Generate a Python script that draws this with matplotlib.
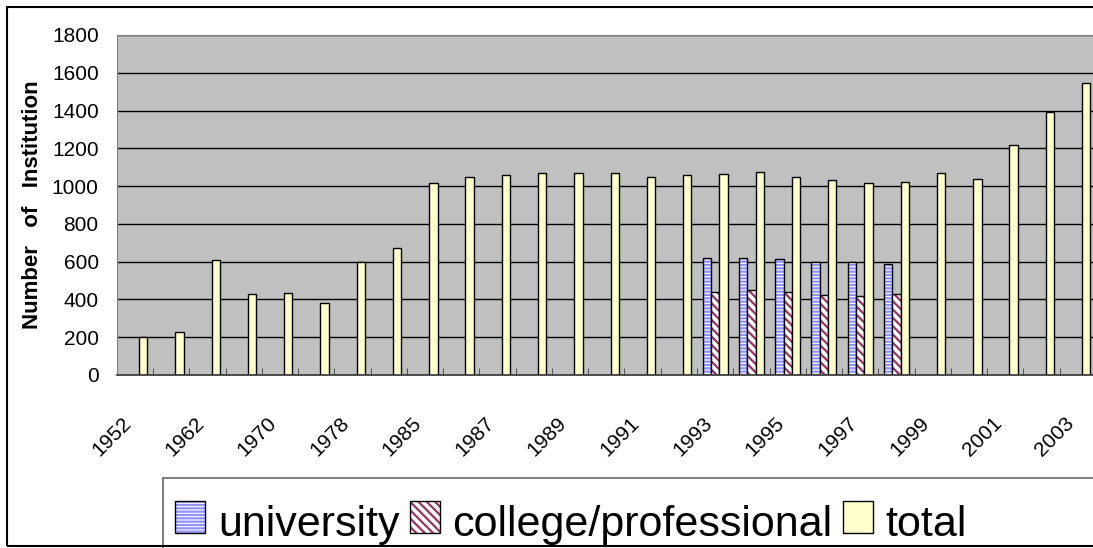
import matplotlib
matplotlib.use('Agg')
import matplotlib.pyplot as plt
import matplotlib.transforms as mtransforms
import numpy as np
from matplotlib.patches import Rectangle

# category labels (only every other one is printed on the axis)
years = ['1952', '1957', '1962', '1965', '1970', '1975', '1978', '1980',
         '1985', '1986', '1987', '1988', '1989', '1990', '1991', '1992',
         '1993', '1994', '1995', '1996', '1997', '1998', '1999', '2000',
         '2001', '2002', '2003']
total = [200, 228, 609, 430, 432, 381, 598, 672,
         1016, 1048, 1059, 1069, 1069, 1069, 1048, 1059,
         1062, 1075, 1050, 1032, 1016, 1022, 1069, 1040,
         1218, 1392, 1547]
# university / college only reported for 1993-1998
univ_years = ['1993', '1994', '1995', '1996', '1997', '1998']
university = [621, 621, 614, 600, 600, 588]
college = [438, 450, 438, 424, 417, 430]

series_names = ['university', 'college/professional', 'total']

plt.rcParams['font.family'] = ['Liberation Sans', 'DejaVu Sans']
plt.rcParams['hatch.linewidth'] = 1.6

fig = plt.figure(figsize=(10.93, 5.48), dpi=100)
W, H = 1093, 548
ax_w = 27 * 36.27
ax = fig.add_axes([116.7 / W, 1 - 375 / H, ax_w / W, 340 / H])

x = np.arange(len(years))
ux = np.array([years.index(y) for y in univ_years])
bw = 0.23

ax.set_facecolor('#C0C0C0')
ax.set_axisbelow(True)
ax.yaxis.grid(True, color='black', linewidth=1)

# hatched bars: stripes first, black outline on top
ax.bar(ux - bw, university, bw, color='white', edgecolor='#9090FF', hatch='-----', linewidth=0)
ax.bar(ux - bw, university, bw, fill=False, edgecolor='black', linewidth=1)
ax.bar(ux, college, bw, color='white', edgecolor='#993366', hatch='\\\\\\\\', linewidth=0)
ax.bar(ux, college, bw, fill=False, edgecolor='black', linewidth=1)
ax.bar(x + bw, total, bw, color='#FFFFCC', edgecolor='black', linewidth=1)

ax.set_xlim(-0.5, len(years) - 0.5)
ax.set_ylim(0, 1800)
ax.set_yticks(range(0, 1801, 200))
ax.tick_params(axis='y', labelsize=15, length=0, pad=13)

ax.set_xticks(x[::2])
ax.set_xticklabels(years[::2], rotation=45, ha='right', va='top',
                   rotation_mode='anchor', fontsize=15)
ax.tick_params(axis='x', length=0, pad=28)
shift = mtransforms.ScaledTranslation(-0.13, 0, fig.dpi_scale_trans)
for lab in ax.get_xticklabels():
    lab.set_transform(lab.get_transform() + shift)
ax.set_xticks(np.arange(0.5, len(years) - 1, 1), minor=True)
ax.tick_params(axis='x', which='minor', direction='in', length=5, color='#404040')

for s in ['left', 'top']:
    ax.spines[s].set_color('#808080')
ax.spines['bottom'].set_color('#404040')
ax.spines['bottom'].set_linewidth(1.3)

ax.set_ylabel('Number   of   Institution', fontsize=16, fontweight='bold')
ax.yaxis.set_label_coords((43 - 116.7) / ax_w, 0.5)

# legend drawn by hand so the swatches sit above the text baseline like the reference
def px(xp, yp):
    return xp / W, 1 - yp / H

fig.patches.append(Rectangle(px(163, 600), 1.0, 122 / H, transform=fig.transFigure,
                             facecolor='white', edgecolor='#808080', linewidth=1.5))
swatches = [
    [dict(facecolor='white', edgecolor='#9090FF', hatch='-----', linewidth=0),
     dict(fill=False, edgecolor='black', linewidth=1)],
    [dict(facecolor='white', edgecolor='#993366', hatch='\\\\\\\\', linewidth=0),
     dict(fill=False, edgecolor='black', linewidth=1)],
    [dict(facecolor='#FFFFCC', edgecolor='black', linewidth=1)],
]
renderer = fig.canvas.get_renderer()
lx = 175
for name, sw in zip(series_names, swatches):
    for kw in sw:
        fig.patches.append(Rectangle(px(lx, 533), 30 / W, 32 / H,
                                     transform=fig.transFigure, **kw))
    t = fig.text(*px(lx + 43, 536), name, fontsize=31, ha='left', va='baseline')
    ext = t.get_window_extent(renderer)
    lx = ext.x1 + 10

# outer frame of the chart (right side is cut off in the reference)
fig.patches.append(Rectangle((7 / W, 2 / H), 1.1, 539 / H, transform=fig.transFigure,
                             fill=False, edgecolor='black', linewidth=1.5, zorder=10))

fig.savefig('out.png', dpi=100)
